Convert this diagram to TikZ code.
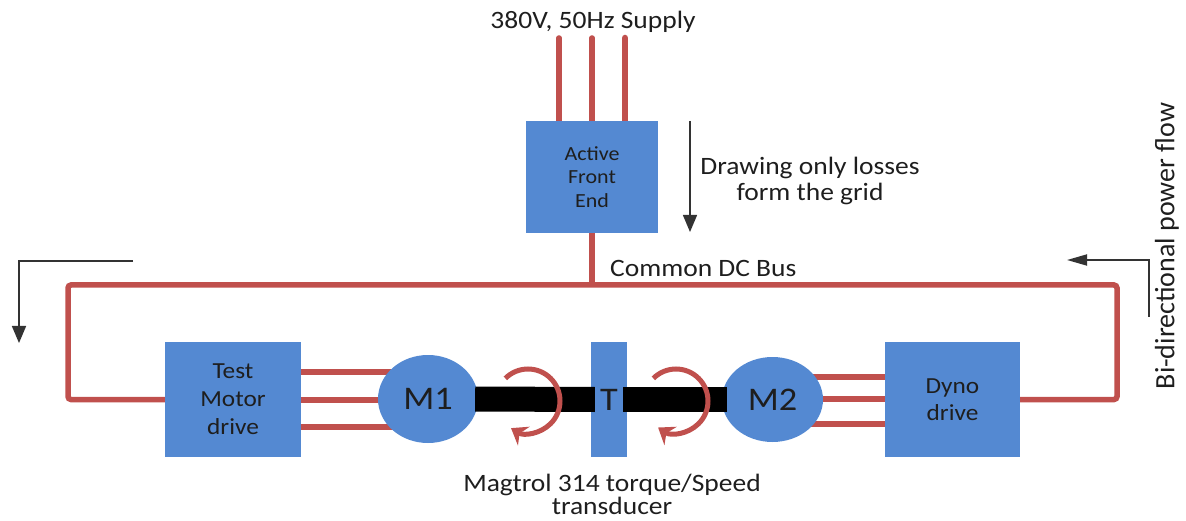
\documentclass[tikz,border=0pt]{standalone}
\usepackage{fontspec}
\setmainfont[FakeStretch=1.1]{Carlito}
\newfontfamily\plainfont{Carlito}
\usetikzlibrary{shapes.geometric,arrows.meta,backgrounds,calc}
\definecolor{pwrred}{RGB}{192,80,77}
\definecolor{boxblue}{RGB}{84,137,210}
\definecolor{txt}{RGB}{30,30,30}
\begin{document}
\begin{tikzpicture}[x=1pt,y=1pt,
  blkbox/.style={rectangle, fill=boxblue, draw=none, inner sep=0pt, align=center, text=txt},
  motor/.style={ellipse, fill=boxblue, draw=none, inner sep=0pt, text=txt, font=\fontsize{33}{36}\selectfont},
  pwr/.style={draw=pwrred, line width=5.5pt, line cap=round},
  shaft/.style={draw=black, line width=25pt},
  lbl/.style={inner sep=0pt, text=txt, font=\fontsize{25}{26}\selectfont},
  flow/.style={draw=black!80, line width=1.8pt, -{Triangle[length=17pt,width=14pt]}},
  spin/.style={draw=pwrred, line width=5pt, -{Stealth[length=15pt,width=22pt,inset=5pt]}}
]
\useasboundingbox (0,0) rectangle (1186,-521);

% blocks
\node[blkbox, minimum width=132pt, minimum height=112pt, font=\fontsize{20}{23.5}\selectfont] (afe) at (592,-177) {Active\\Front\\End};
\node[blkbox, minimum width=136pt, minimum height=115pt, font=\fontsize{23}{28}\selectfont] (tmd) at (233,-399.5) {Test\\Motor\\drive};
\node[blkbox, minimum width=135pt, minimum height=115pt, font=\fontsize{23}{27}\selectfont] (dyno) at (952.5,-399.5) {Dyno\\drive};
\node[blkbox, minimum width=36pt, minimum height=115pt, font=\fontsize{33}{36}\selectfont] (tt) at (609,-399.5) {T};
\node[motor, minimum width=100pt, minimum height=88pt] (m1) at (428,-399) {M1};
\node[motor, minimum width=101pt, minimum height=85pt] (m2) at (772.5,-399.5) {M2};

% supply
\coordinate (s1) at (559,-38);
\coordinate (s2) at (592,-38);
\coordinate (s3) at (625,-38);
\coordinate (busL) at (68,-285);
\coordinate (busR) at (1117,-285);

\begin{pgfonlayer}{background}
  \draw[pwr] (s1) -- (s1 |- afe.north);
  \draw[pwr] (s2) -- (s2 |- afe.north);
  \draw[pwr, line width=6.5pt] (s3) -- (s3 |- afe.north);
  \draw[pwr, line cap=butt] (afe.south) -- (afe.south |- busL);
  \draw[pwr, rounded corners=3pt, line cap=butt] (tmd.west) -| (busL) -- (busR) |- (dyno.east);
  % drive to motor phases
  \draw[pwr] (tmd.east |- 0,-372) -- (m1.center |- 0,-372);
  \draw[pwr] (tmd.east |- 0,-400) -- (m1.center |- 0,-400);
  \draw[pwr] (tmd.east |- 0,-427) -- (m1.center |- 0,-427);
  \draw[pwr] (dyno.west |- 0,-377) -- (m2.center |- 0,-377);
  \draw[pwr] (dyno.west |- 0,-399) -- (m2.center |- 0,-399);
  \draw[pwr] (dyno.west |- 0,-424) -- (m2.center |- 0,-424);
\end{pgfonlayer}

% shafts
\draw[shaft] ([xshift=-3pt]m1.east) -- ([xshift=4pt]tt.west);
\draw[shaft] ([xshift=-4pt]tt.east) -- ([xshift=5pt]m2.west);

% rotation arrows
\coordinate (r1) at (528,-401);
\coordinate (r2) at (676,-401);
\draw[spin] ([shift={(135:32pt)}]r1) arc[start angle=135, end angle=-122, radius=32pt];
\draw[spin] ([shift={(135:32pt)}]r2) arc[start angle=135, end angle=-124, radius=32pt];

% labels
\node[lbl, anchor=base] (sup) at (593,-29) {380V, 50Hz Supply};
\node[lbl, align=center, font=\fontsize{25}{26}\selectfont] (loss) at (810,-181) {Drawing only losses\\form the grid};
\node[lbl, anchor=base west] (dcbus) at (610,-277) {Common DC Bus};
\node[lbl, align=center, font=\fontsize{25}{23}\selectfont] (mag) at (612,-494) {Magtrol 314 torque/Speed\\transducer};
\node[lbl, rotate=90, font=\plainfont\fontsize{28}{30}\selectfont] (bidir) at (1167,-246) {Bi-directional power flow};

% flow arrows
\coordinate (g1) at (690,-121);
\coordinate (g2) at (690,-232);
\draw[flow, line width=1.4pt] (g1) -- (g2);
\coordinate (la) at (133,-261);
\coordinate (lc) at (19,-261);
\coordinate (lt) at (19,-343);
\draw[flow] (la) -- (lc) -- (lt);
\coordinate (ra) at (1149,-317);
\coordinate (rc) at (1149,-260);
\coordinate (rt) at (1067,-260);
\draw[flow, -{Triangle[length=20pt,width=11pt]}] (ra) -- (rc) -- (rt);
\end{tikzpicture}
\end{document}
